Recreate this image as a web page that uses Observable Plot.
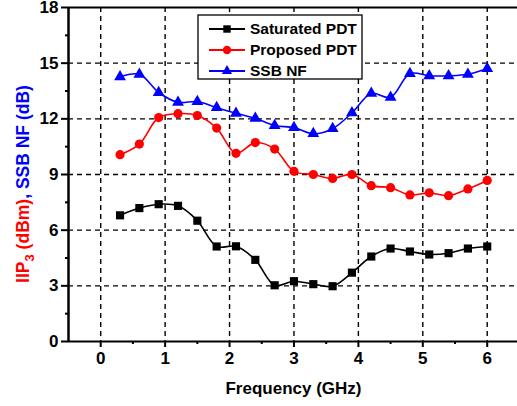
<!DOCTYPE html>
<html><head><meta charset="utf-8">
<script src="https://cdn.jsdelivr.net/npm/d3@7"></script>
<script src="https://cdn.jsdelivr.net/npm/@observablehq/plot@0.6"></script>
<style>
html,body{margin:0;padding:0;background:#fff;}
#chart{position:relative;width:517px;height:406px;overflow:hidden;}
</style>
</head><body><div id="chart"></div>
<script>
const freq = [0.3,0.6,0.9,1.2,1.5,1.8,2.1,2.4,2.7,3.0,3.3,3.6,3.9,4.2,4.5,4.8,5.1,5.4,5.7,6.0];
const saturatedPDT = [6.8,7.19,7.4,7.31,6.51,5.12,5.13,4.4,3.03,3.25,3.09,2.98,3.71,4.58,5.01,4.85,4.69,4.76,5.01,5.12];
const proposedPDT = [10.07,10.64,12.07,12.28,12.18,11.5,10.14,10.72,10.37,9.17,9.0,8.79,9.0,8.4,8.29,7.9,8.01,7.86,8.22,8.68];
const ssbNF = [14.26,14.4,13.42,12.89,12.93,12.6,12.3,12.03,11.64,11.53,11.2,11.47,12.32,13.37,13.16,14.44,14.32,14.32,14.4,14.71];
const seriesNames = ["Saturated PDT","Proposed PDT","SSB NF"];
const seriesColors = ["#000000","#ff0000","#0000ff"];
const seriesSymbols = ["square","circle","triangle"];
const xTicks = [0,1,2,3,4,5,6];
const yTicks = [0,3,6,9,12,15,18];
const xTitle = "Frequency (GHz)";

const allVals = [saturatedPDT, proposedPDT, ssbNF];
const rows = [];
allVals.forEach((vals, s) => vals.forEach((v, i) => rows.push({series: seriesNames[s], x: freq[i], y: v})));

const dash = {stroke: "#000", strokeWidth: 1.4, strokeDasharray: "5,4"};
const marks = [
  Plot.ruleX(xTicks, {...dash}),
  Plot.ruleY(yTicks.filter(d => d > 0 && d < 18), {...dash}),
  Plot.ruleY([18], {stroke: "#000", strokeWidth: 2}),
  Plot.ruleY([0], {stroke: "#000", strokeWidth: 2}),
  Plot.ruleX([-0.5], {stroke: "#000", strokeWidth: 2.5}),
  Plot.axisX({ticks: xTicks, tickSize: 6, tickPadding: 4, tickFormat: d => String(d), label: null, fontSize: 17, strokeWidth: 2}),
  Plot.axisX({ticks: d3.range(0.5, 6.5, 1), tickSize: 3, tickFormat: () => "", label: null, strokeWidth: 2}),
  Plot.axisY({ticks: yTicks, tickSize: 7, tickPadding: 3, tickFormat: d => String(d), label: null, fontSize: 17, strokeWidth: 2}),
  Plot.axisY({ticks: d3.range(1.5, 18, 3), tickSize: 3, tickFormat: () => "", label: null, strokeWidth: 2})
];
seriesNames.forEach((name, s) => {
  const data = rows.filter(r => r.series === name);
  marks.push(Plot.line(data, {x: "x", y: "y", stroke: seriesColors[s], strokeWidth: 1.6, curve: "catmull-rom"}));
  marks.push(Plot.dot(data, {x: "x", y: "y", fill: seriesColors[s], stroke: "none", symbol: seriesSymbols[s], r: s === 2 ? 4.4 : 4.6}));
});

const plot = Plot.plot({
  width: 517, height: 406,
  marginLeft: 68, marginRight: 0, marginTop: 7, marginBottom: 65,
  x: {domain: [-0.5, 6.47]},
  y: {domain: [0, 18]},
  style: {fontFamily: "'Liberation Sans', Arial, sans-serif", fontWeight: "bold", color: "#000", background: "#fff"},
  marks
});
document.getElementById("chart").appendChild(plot);

const svg = d3.select(plot);
// x title
svg.append("text").attr("x", 100 + 3 * 64.5).attr("y", 394).attr("text-anchor", "middle")
  .style("font-size", "17px").style("font-weight", "bold").style("fill", "#000").text(xTitle);
// y title
const yt = svg.append("text").attr("transform", "translate(29,184) rotate(-90)").attr("text-anchor", "middle")
  .style("font-size", "17.5px").style("font-weight", "bold");
yt.append("tspan").style("fill", "#ff0000").text("IIP");
yt.append("tspan").style("fill", "#ff0000").attr("dy", 5).style("font-size", "13px").text("3");
yt.append("tspan").style("fill", "#ff0000").attr("dy", -5).text(" (dBm)");
yt.append("tspan").style("fill", "#0000ff").text(", SSB NF (dB)");

// legend
const lg = svg.append("g");
lg.append("rect").attr("x", 198).attr("y", 15).attr("width", 164).attr("height", 64)
  .style("fill", "#ffffff").style("stroke", "#000000").style("stroke-width", "1.3px");
seriesNames.forEach((name, s) => {
  const cy = 29 + s * 21;
  lg.append("line").attr("x1", 209).attr("x2", 245).attr("y1", cy).attr("y2", cy)
    .style("stroke", seriesColors[s]).style("stroke-width", "2.2px");
  const sym = d3.symbol().type(s === 0 ? d3.symbolSquare : s === 1 ? d3.symbolCircle : d3.symbolTriangle).size(s === 2 ? 45 : 55);
  lg.append("path").attr("d", sym()).attr("transform", `translate(227,${cy})`).style("fill", seriesColors[s]);
  lg.append("text").attr("x", 250).attr("y", cy).attr("dy", "0.35em").attr("text-anchor", "start")
    .style("text-anchor", "start").style("font-size", "15.5px")
    .style("font-weight", "bold").style("fill", "#000").text(name);
});
</script>
</body></html>
